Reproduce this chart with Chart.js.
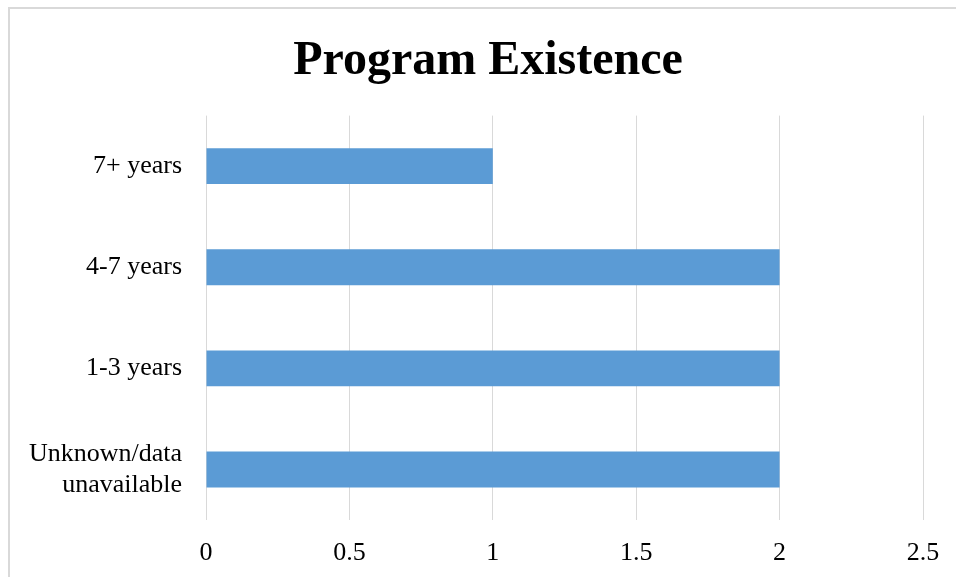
<!DOCTYPE html>
<html>
<head>
<meta charset="utf-8">
<title>Program Existence</title>
<script src="https://cdn.jsdelivr.net/npm/chart.js@4"></script>
<style>
  html, body { margin: 0; padding: 0; background: #fff; overflow: hidden; }
  #frame {
    position: absolute; left: 8px; top: 7px;
    width: 1200px; height: 900px;
    border: 2px solid #d9d9d9;
  }
  #chart { position: absolute; left: 0; top: 0; }
</style>
</head>
<body>
<div id="frame"></div>
<!-- canvas is a bit wider than the window so the title centres on the frame, like the original -->
<canvas id="chart" width="976" height="577"></canvas>
<script>
// chart data
var categories = ["7+ years", "4-7 years", "1-3 years", ["Unknown/data", "unavailable"]];
var counts     = [1, 2, 2, 2];
var xTicks     = [0, 0.5, 1, 1.5, 2, 2.5];

var serif = "'Liberation Serif', 'Times New Roman', serif";

new Chart(document.getElementById("chart"), {
  type: "bar",
  data: {
    labels: categories,
    datasets: [{
      data: counts,
      backgroundColor: "#5b9bd5",
      borderWidth: 0,
      categoryPercentage: 1,
      barPercentage: 0.355
    }]
  },
  options: {
    indexAxis: "y",
    responsive: false,
    animation: false,
    devicePixelRatio: 1,
    layout: { padding: { top: 33, right: 0, bottom: 0, left: 0 } },
    plugins: {
      legend: { display: false },
      tooltip: { enabled: false },
      title: {
        display: true,
        text: "Program Existence",
        color: "#000",
        font: { family: serif, size: 48, weight: "bold", lineHeight: 1.2 },
        padding: { top: 0, bottom: 25 }
      }
    },
    scales: {
      x: {
        min: 0,
        max: 2.5,
        afterBuildTicks: function(scale) {
          scale.ticks = xTicks.map(function(v) { return { value: v }; });
        },
        afterFit: function(scale) { scale.height = 57; },
        grid: { color: "#d9d9d9", lineWidth: 1, drawTicks: false },
        border: { display: false },
        ticks: {
          color: "#000",
          padding: 18,
          font: { family: serif, size: 26 },
          callback: function(v) { return String(v); }
        }
      },
      y: {
        afterFit: function(scale) { scale.width = 206; },
        grid: { display: false, drawTicks: false },
        border: { display: false },
        ticks: {
          color: "#000",
          padding: 24,
          font: { family: serif, size: 26, lineHeight: 1.2 }
        }
      },
      // empty spacer on the right so the plot ends at the 2.5 line
      y2: {
        type: "linear",
        position: "right",
        afterFit: function(scale) { scale.width = 53; },
        grid: { display: false, drawTicks: false },
        border: { display: false },
        ticks: { display: false }
      }
    }
  }
});
</script>
</body>
</html>
